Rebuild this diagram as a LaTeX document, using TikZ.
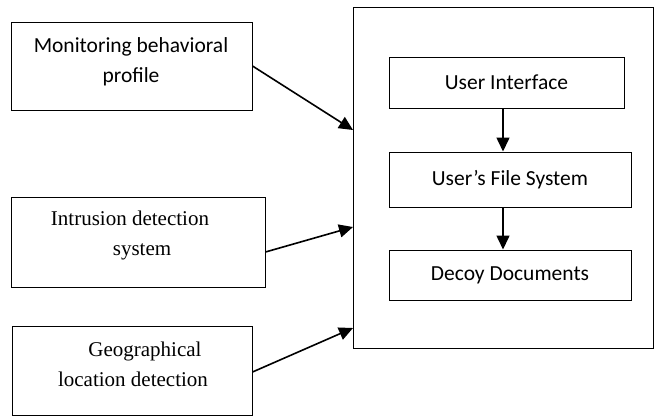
\documentclass[tikz,border=0pt]{standalone}
\usepackage{fontspec}
\setmainfont{Liberation Serif}
\newfontfamily\calibri{Carlito}
\usetikzlibrary{arrows.meta, positioning}

\begin{document}
\begin{tikzpicture}[x=1pt, y=-1pt,
    box/.style={draw, line width=1pt, inner sep=0pt},
    lbl/.style={font=\calibri\fontsize{21.5}{30}\selectfont, align=center},
    serlbl/.style={font=\fontsize{21}{30}\selectfont, align=center},
    flow/.style={line width=1.6pt, -{Triangle[length=14pt, width=13pt]}}]

    \useasboundingbox (0,0) rectangle (655,418);

    % input boxes on the left
    \node [box, minimum width=241pt, minimum height=88pt] (mon) at (131.5,66) {};
    \node [lbl] (monText) at (131,62) {Monitoring behavioral\\profile};

    \node [box, minimum width=254pt, minimum height=90pt] (ids) at (138,242) {};
    \node [serlbl] (idsText) at (130,235) {Intrusion detection\\\hspace*{24pt}system};

    \node [box, minimum width=240pt, minimum height=89pt] (geo) at (132,371) {};
    \node [serlbl] (geoText) at (133,364) {\hspace*{24pt}Geographical\\location detection};

    % system box
    \node [box, minimum width=300pt, minimum height=341pt] (sys) at (503,177.5) {};

    \node [box, lbl, minimum width=235pt, minimum height=51pt] (ui) at (506.5,82.5) {User Interface};
    \node [box, lbl, minimum width=242pt, minimum height=55pt] (ufs) at (510,179.5) {User’s File System};
    \node [box, lbl, minimum width=242pt, minimum height=50pt] (dd) at (510,275) {Decoy Documents};

    \coordinate (inMon) at (353,130);
    \coordinate (inIds) at (353,227);
    \coordinate (inGeo) at (353,328);

    \draw [flow] (ui.south -| 503,0) -- (ufs.north -| 503,0);
    \draw [flow] (ufs.south -| 503,0) -- (dd.north -| 503,0);

    \draw [flow] (mon.east) -- (inMon);
    \draw [flow] ([yshift=-10pt]ids.east) -- (inIds);
    \draw [flow] ([yshift=-1pt]geo.east) -- (inGeo);

\end{tikzpicture}
\end{document}
